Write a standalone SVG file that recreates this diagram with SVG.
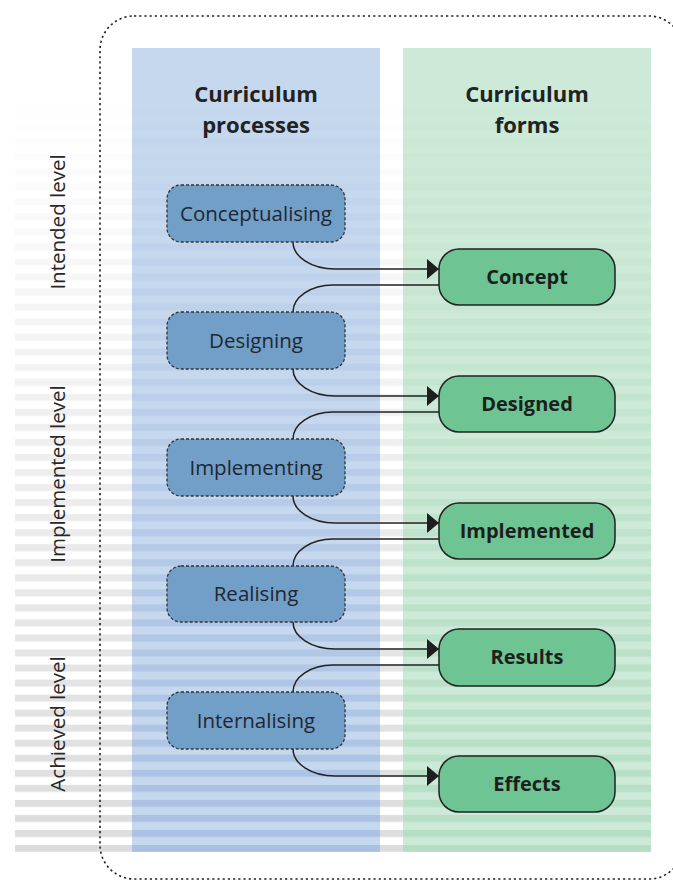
<svg xmlns="http://www.w3.org/2000/svg" width="673" height="882" viewBox="0 0 673 882">
<style>
.lvl{font-family:"Open Sans","Noto Sans",sans-serif;font-size:20.5px;fill:#262626;text-anchor:middle}
.hd{font-family:"Open Sans","Noto Sans",sans-serif;font-size:22px;font-weight:bold;fill:#222;text-anchor:middle}
.pn rect{fill:#729fc8;stroke:#333;stroke-width:1.3;stroke-dasharray:3 2}
.pn text{font-family:"Open Sans","Noto Sans",sans-serif;font-size:20.5px;fill:#1f2630;text-anchor:middle}
.fn rect{fill:#6ec593;stroke:#222;stroke-width:1.5}
.fn text{font-family:"Open Sans","Noto Sans",sans-serif;font-size:20px;font-weight:bold;fill:#1e1e1e;text-anchor:middle}
.cn path{fill:none;stroke:#222;stroke-width:1.5}
.cn path.a{marker-end:url(#arr)}
</style>
<defs>
<marker id="arr" markerUnits="userSpaceOnUse" markerWidth="12" markerHeight="20" refX="12" refY="10" orient="auto">
<path d="M0,0 L12,10 L0,20 Z" fill="#1e1e1e"/>
</marker>
<linearGradient id="fade" gradientUnits="userSpaceOnUse" x1="0" y1="95" x2="0" y2="852">
<stop offset="0" stop-color="#000"/>
<stop offset="1" stop-color="#fff"/>
</linearGradient>
<mask id="fm" maskUnits="userSpaceOnUse" x="0" y="0" width="673" height="882">
<rect x="0" y="0" width="673" height="882" fill="url(#fade)"/>
</mask>
<pattern id="sg" patternUnits="userSpaceOnUse" x="0" y="2.76" width="10" height="15.04"><rect x="0" y="0" width="10" height="7" fill="#dcdcdc"/></pattern>
<pattern id="sb" patternUnits="userSpaceOnUse" x="0" y="2.76" width="10" height="15.04"><rect x="0" y="0" width="10" height="7" fill="#a9c0e3"/></pattern>
<pattern id="sgr" patternUnits="userSpaceOnUse" x="0" y="2.76" width="10" height="15.04"><rect x="0" y="0" width="10" height="7" fill="#b4dec4"/></pattern>
</defs>
<rect width="673" height="882" fill="#fff"/>
<g id="columns">
<rect x="132" y="48" width="248" height="804" fill="#c6d8ee"/>
<rect x="403" y="48" width="248" height="804" fill="#cde9d7"/>
</g>
<g id="stripes" mask="url(#fm)">
<rect x="15" y="95" width="117" height="757" fill="url(#sg)"/>
<rect x="380" y="95" width="23" height="757" fill="url(#sg)"/>
<rect x="132" y="95" width="248" height="757" fill="url(#sb)"/>
<rect x="403" y="95" width="248" height="757" fill="url(#sgr)"/>
</g>
<rect id="frame" x="100" y="16" width="583" height="863" rx="34" fill="none" stroke="#222" stroke-width="1.6" stroke-dasharray="2.2 3"/>
<g id="headings">
<text class="hd" x="256" y="102">Curriculum</text>
<text class="hd" x="256" y="133">processes</text>
<text class="hd" x="527" y="102">Curriculum</text>
<text class="hd" x="527" y="133">forms</text>
</g>
<g id="levels">
<text class="lvl" transform="translate(65,222) rotate(-90)">Intended level</text>
<text class="lvl" transform="translate(65,474) rotate(-90)">Implemented level</text>
<text class="lvl" transform="translate(65,724) rotate(-90)">Achieved level</text>
</g>
<g id="connectors" class="cn">
<path class="a" d="M293,242 A42,27 0 0 0 335,269 L439,269"/>
<path d="M439,285 L333,285 A40,27 0 0 0 293,312"/>
<path class="a" d="M293,369 A42,27 0 0 0 335,396 L439,396"/>
<path d="M439,412 L333,412 A40,27 0 0 0 293,439"/>
<path class="a" d="M293,496 A42,27 0 0 0 335,523 L439,523"/>
<path d="M439,539 L333,539 A40,27 0 0 0 293,566"/>
<path class="a" d="M293,622 A42,27 0 0 0 335,649 L439,649"/>
<path d="M439,665 L333,665 A40,27 0 0 0 293,692"/>
<path class="a" d="M293,749 A42,27 0 0 0 335,776 L439,776"/>
</g>
<g id="p-conceptualising" class="pn"><rect x="167" y="185" width="178" height="57" rx="14"/><text x="256" y="221">Conceptualising</text></g>
<g id="p-designing" class="pn"><rect x="167" y="312" width="178" height="57" rx="14"/><text x="256" y="348">Designing</text></g>
<g id="p-implementing" class="pn"><rect x="167" y="439" width="178" height="57" rx="14"/><text x="256" y="475">Implementing</text></g>
<g id="p-realising" class="pn"><rect x="167" y="566" width="178" height="56" rx="14"/><text x="256" y="601">Realising</text></g>
<g id="p-internalising" class="pn"><rect x="167" y="692" width="178" height="57" rx="14"/><text x="256" y="728">Internalising</text></g>
<g id="f-concept" class="fn"><rect x="439" y="249" width="176" height="56" rx="20"/><text x="527" y="284">Concept</text></g>
<g id="f-designed" class="fn"><rect x="439" y="376" width="176" height="56" rx="20"/><text x="527" y="411">Designed</text></g>
<g id="f-implemented" class="fn"><rect x="439" y="503" width="176" height="56" rx="20"/><text x="527" y="538">Implemented</text></g>
<g id="f-results" class="fn"><rect x="439" y="629" width="176" height="57" rx="20"/><text x="527" y="664">Results</text></g>
<g id="f-effects" class="fn"><rect x="439" y="756" width="176" height="56" rx="20"/><text x="527" y="791">Effects</text></g>
</svg>
